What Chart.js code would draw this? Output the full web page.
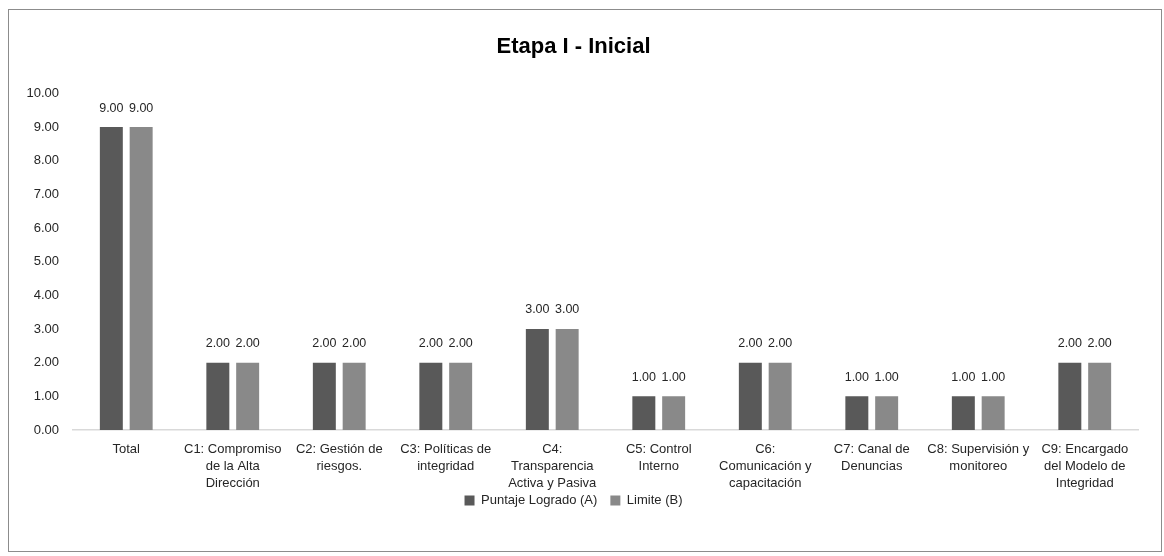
<!DOCTYPE html>
<html>
<head>
<meta charset="utf-8">
<script src="https://cdn.jsdelivr.net/npm/chart.js@4"></script>
<style>
  body { margin: 0; background: #fff; }
  #box {
    position: absolute; left: 8px; top: 9px;
    width: 1152px; height: 541px;
    border: 1px solid #8c8c8c;
  }
</style>
</head>
<body>
<div id="box"><canvas id="chart"></canvas></div>
<script>
const categories = [
  'Total',
  ['C1: Compromiso', 'de la Alta', 'Dirección'],
  ['C2: Gestión de', 'riesgos.'],
  ['C3: Políticas de', 'integridad'],
  ['C4:', 'Transparencia', 'Activa y Pasiva'],
  ['C5: Control', 'Interno'],
  ['C6:', 'Comunicación y', 'capacitación'],
  ['C7: Canal de', 'Denuncias'],
  ['C8: Supervisión y', 'monitoreo'],
  ['C9: Encargado', 'del Modelo de', 'Integridad']
];
const puntajeLogrado = [9, 2, 2, 2, 3, 1, 2, 1, 1, 2];
const limite = [9, 2, 2, 2, 3, 1, 2, 1, 1, 2];
const yTicks = [0, 1, 2, 3, 4, 5, 6, 7, 8, 9, 10];

const FONT = '"Liberation Sans", Arial, sans-serif';
const TEXT = '#262626';

// value labels above each bar
const barLabels = {
  id: 'barLabels',
  afterDatasetsDraw(chart) {
    const ctx = chart.ctx;
    ctx.save();
    ctx.font = '12.5px ' + FONT;
    ctx.fillStyle = TEXT;
    ctx.textAlign = 'center';
    ctx.textBaseline = 'middle';
    chart.data.datasets.forEach((ds, i) => {
      chart.getDatasetMeta(i).data.forEach((bar, j) => {
        ctx.fillText(ds.data[j].toFixed(2), bar.x, bar.y - 19);
      });
    });
    ctx.restore();
  }
};

new Chart(document.getElementById('chart'), {
  type: 'bar',
  data: {
    labels: categories,
    datasets: [
      { label: 'Puntaje Logrado (A)', data: puntajeLogrado, backgroundColor: '#595959',
        barPercentage: 0.77, categoryPercentage: 0.56 },
      { label: 'Limite (B)', data: limite, backgroundColor: '#898989',
        barPercentage: 0.77, categoryPercentage: 0.56 }
    ]
  },
  plugins: [barLabels],
  options: {
    responsive: true,
    maintainAspectRatio: false,
    animation: false,
    layout: { padding: { left: 0, right: 23, top: 0, bottom: 34 } },
    plugins: {
      title: {
        display: true,
        text: 'Etapa I - Inicial',
        color: '#000',
        font: { family: FONT, size: 22, weight: 'bold' },
        padding: { top: 24, bottom: 33 }
      },
      legend: {
        position: 'bottom',
        labels: {
          color: TEXT,
          font: { family: FONT, size: 13 },
          boxWidth: 10,
          boxHeight: 10,
          padding: 13
        }
      },
      tooltip: { enabled: false }
    },
    scales: {
      x: {
        grid: { display: false, drawTicks: false },
        border: { display: true, color: '#d9d9d9', width: 1.5 },
        ticks: {
          color: TEXT,
          font: { family: FONT, size: 13, lineHeight: 1.31 },
          padding: 11,
          maxRotation: 0,
          autoSkip: false
        },
        afterFit(s) {
          s.height = 51;
          // let the third label line run below the axis box
          s._computeLabelArea = () => null;
        }
      },
      y: {
        min: 0,
        max: 10,
        grid: { display: false, drawTicks: false },
        border: { display: false },
        afterBuildTicks(s) { s.ticks = yTicks.map(v => ({ value: v })); },
        ticks: {
          color: TEXT,
          font: { family: FONT, size: 13 },
          padding: 14,
          callback: v => v.toFixed(2)
        },
        afterFit(s) { s.width = 64; }
      }
    }
  }
});
</script>
</body>
</html>
